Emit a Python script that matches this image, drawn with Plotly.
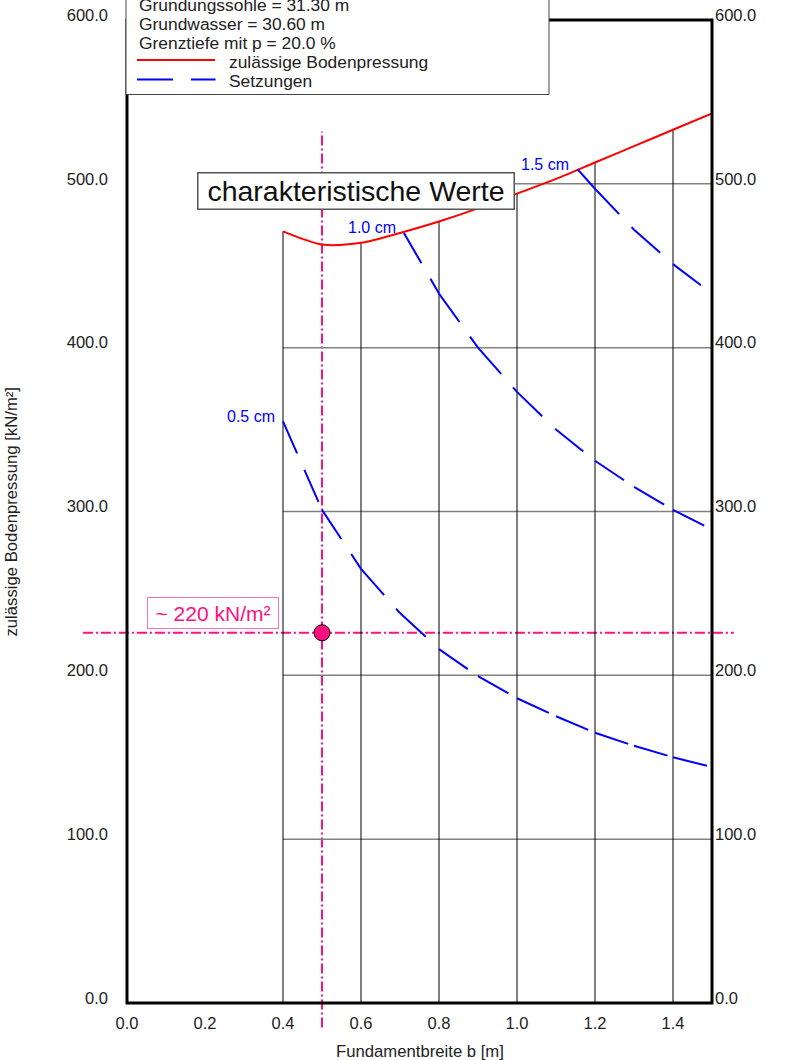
import plotly.graph_objects as go

# Zulässige Bodenpressung über der Fundamentbreite
b_zul = [0.4, 0.5, 0.6, 0.7, 0.8, 0.9, 1.0, 1.1, 1.2, 1.3, 1.4, 1.5]
q_zul = [471, 463, 464, 470, 477, 485, 494, 503, 513, 523, 533, 543]

# Linien gleicher Setzung
b_s05 = [0.4, 0.5, 0.6, 0.7, 0.8, 0.9, 1.0, 1.1, 1.2, 1.3, 1.4, 1.5]
q_s05 = [355, 301, 265, 238, 216, 199.5, 186, 175, 165, 157, 150, 144]
b_s10 = [0.71, 0.8, 0.9, 1.0, 1.1, 1.2, 1.3, 1.4, 1.5]
q_s10 = [470, 433, 400, 373, 350, 331, 315, 301, 289]
b_s15 = [1.155, 1.2, 1.3, 1.4, 1.5]
q_s15 = [509, 497, 472, 451, 433]
s_labels = ["0.5 cm", "1.0 cm", "1.5 cm"]

# Raster und Achsen
grid_b = [0.4, 0.6, 0.8, 1.0, 1.2, 1.4]
grid_q = [100, 200, 300, 400, 500]
x_ticks = [0.0, 0.2, 0.4, 0.6, 0.8, 1.0, 1.2, 1.4]
y_ticks = [0, 100, 200, 300, 400, 500, 600]
x_range = [0.0, 1.5]
y_range = [0, 600]

# Ablesung für b = 0.50 m
b_design = 0.5
q_design = 226
design_label = "~ 220 kN/m²"
design_vline = [-15, 532]
design_hline = [-0.113, 1.556]

info_lines = ["Grundungssohle = 31.30 m", "Grundwasser = 30.60 m",
              "Grenztiefe mit p = 20.0 %"]
legend_names = ["zulässige Bodenpressung", "Setzungen"]
box_title = "charakteristische Werte"

W, H = 787, 1060
ML, MR, MT, MB = 127, 75, 20, 57
PW, PH = W - ML - MR, H - MT - MB
FONT = "Liberation Sans, Arial, sans-serif"
RED, BLUE, PINK = "#ff0000", "#0000ff", "#ff1080"


def px_x(px):
    return (px - ML) / PW


def px_y(py):
    return (H - MB - py) / PH


def segmented(bs, qs):
    # each segment is its own sub-path, so the dash pattern restarts at every node
    xs, ys = [], []
    for i in range(len(bs) - 1):
        xs += [bs[i], bs[i + 1], None]
        ys += [qs[i], qs[i + 1], None]
    return xs, ys


q_at = {round(b, 2): q for b, q in zip(b_zul, q_zul)}

fig = go.Figure()

fig.add_trace(go.Scatter(x=b_zul, y=q_zul, mode="lines",
                         line=dict(color=RED, width=2, shape="spline", smoothing=0.8),
                         hoverinfo="skip"))
for bs, qs in [(b_s05, q_s05), (b_s10, q_s10), (b_s15, q_s15)]:
    xs, ys = segmented(bs, qs)
    fig.add_trace(go.Scatter(x=xs, y=ys, mode="lines", connectgaps=False,
                             line=dict(color=BLUE, width=2, dash="35px,18px"),
                             hoverinfo="skip"))
fig.add_trace(go.Scatter(x=[b_design], y=[q_design], mode="markers",
                         marker=dict(size=16, color=PINK,
                                     line=dict(color="#000000", width=1)),
                         hoverinfo="skip"))
fig.add_trace(go.Scatter(x=[None], y=[None], yaxis="y2", hoverinfo="skip"))

shapes = []
# Rasterlinien
for q in grid_q:
    shapes.append(dict(type="line", xref="x", yref="y", x0=grid_b[0], x1=x_range[1],
                       y0=q, y1=q, layer="below",
                       line=dict(color="#808080", width=1.5)))
for b in grid_b:
    shapes.append(dict(type="line", xref="x", yref="y", x0=b, x1=b,
                       y0=0, y1=q_at[round(b, 2)], layer="below",
                       line=dict(color="#000000", width=1)))
# Ablesehilfslinien
y_span = y_range[1] - y_range[0]
x_span = x_range[1] - x_range[0]
shapes.append(dict(type="line", xref="x", yref="paper", x0=b_design, x1=b_design,
                   y0=(design_vline[0] - y_range[0]) / y_span,
                   y1=(design_vline[1] - y_range[0]) / y_span, layer="below",
                   line=dict(color=PINK, width=2, dash="10px,3px,2px,3px")))
shapes.append(dict(type="line", xref="paper", yref="y",
                   x0=(design_hline[0] - x_range[0]) / x_span,
                   x1=(design_hline[1] - x_range[0]) / x_span,
                   y0=q_design, y1=q_design, layer="below",
                   line=dict(color=PINK, width=2, dash="10px,3px,2px,3px")))
# Rahmen
shapes.append(dict(type="rect", xref="paper", yref="paper", x0=0, x1=1, y0=0, y1=1,
                   line=dict(color="#000000", width=3), layer="above"))
# Legendenkasten
shapes.append(dict(type="rect", xref="paper", yref="paper",
                   x0=px_x(126), x1=px_x(549), y0=px_y(94.5), y1=px_y(-5),
                   fillcolor="#ffffff", line=dict(color="#444444", width=1),
                   layer="above"))
shapes.append(dict(type="line", xref="paper", yref="paper",
                   x0=px_x(137), x1=px_x(215), y0=px_y(60), y1=px_y(60),
                   line=dict(color=RED, width=2), layer="above"))
shapes.append(dict(type="line", xref="paper", yref="paper",
                   x0=px_x(137), x1=px_x(215.5), y0=px_y(79.5), y1=px_y(79.5),
                   line=dict(color=BLUE, width=2, dash="36px,18px"), layer="above"))

ann = []
for bs, qs, lab in zip([b_s05, b_s10, b_s15], [q_s05, q_s10, q_s15], s_labels):
    ann.append(dict(x=bs[0], y=qs[0], xref="x", yref="y", text=lab, showarrow=False,
                    xanchor="right", yanchor="middle", xshift=-6, yshift=5,
                    font=dict(family=FONT, size=16, color=BLUE)))
ann.append(dict(x=0.586, y=495.5, xref="x", yref="y", text=box_title, showarrow=False,
                xanchor="center", yanchor="middle", bgcolor="#ffffff",
                bordercolor="#555555", borderwidth=1.5, borderpad=1,
                width=313, height=33,
                font=dict(family=FONT, size=28.5, color="#111111")))
ann.append(dict(x=0.2205, y=238, xref="x", yref="y", text=design_label, showarrow=False,
                xanchor="center", yanchor="middle", bgcolor="#ffffff",
                bordercolor="#ff70b8", borderwidth=1, borderpad=1,
                width=128, height=28,
                font=dict(family=FONT, size=21, color=PINK)))
for i, line in enumerate(info_lines):
    ann.append(dict(x=px_x(137), y=px_y(5 + 19 * i), xref="paper", yref="paper",
                    text=line, showarrow=False, xanchor="left", yanchor="middle",
                    font=dict(family=FONT, size=17.4, color="#222222")))
for i, name in enumerate(legend_names):
    ann.append(dict(x=px_x(227), y=px_y(62 + 19 * i), xref="paper", yref="paper",
                    text=name, showarrow=False, xanchor="left", yanchor="middle",
                    font=dict(family=FONT, size=17.4, color="#222222")))
ann.append(dict(x=0.5, y=px_y(1051), xref="paper", yref="paper",
                text="Fundamentbreite b [m]", showarrow=False,
                xanchor="center", yanchor="middle",
                font=dict(family=FONT, size=16.7, color="#222222")))
ann.append(dict(x=px_x(11), y=0.5, xref="paper", yref="paper",
                text="zulässige Bodenpressung [kN/m²]", showarrow=False,
                textangle=-90, xanchor="center", yanchor="middle",
                font=dict(family=FONT, size=16.7, color="#222222")))

tick_font = dict(family=FONT, size=16.5, color="#222222")
fig.update_layout(
    width=W, height=H, margin=dict(l=ML, r=MR, t=MT, b=MB, pad=0, autoexpand=False),
    paper_bgcolor="#ffffff", plot_bgcolor="#ffffff", showlegend=False,
    xaxis=dict(range=x_range, tickmode="array", tickvals=x_ticks,
               ticktext=[f"{v:.1f}" for v in x_ticks], showgrid=False,
               zeroline=False, showline=False, ticks="", tickfont=tick_font,
               ticklabelstandoff=8, automargin=False, fixedrange=True),
    yaxis=dict(range=y_range, tickmode="array", tickvals=y_ticks,
               ticktext=[f"{v:.1f}" for v in y_ticks], showgrid=False,
               zeroline=False, showline=False, ticks="", tickfont=tick_font,
               ticklabelstandoff=18, ticklabelshift=-5, automargin=False,
               fixedrange=True),
    yaxis2=dict(range=y_range, overlaying="y", side="right", tickmode="array",
                tickvals=y_ticks, ticktext=[f"{v:.1f}" for v in y_ticks],
                showgrid=False, zeroline=False, showline=False, ticks="",
                tickfont=tick_font, ticklabelstandoff=2, ticklabelshift=-5,
                automargin=False, fixedrange=True),
    shapes=shapes, annotations=ann,
)

fig.write_html("out.html")
